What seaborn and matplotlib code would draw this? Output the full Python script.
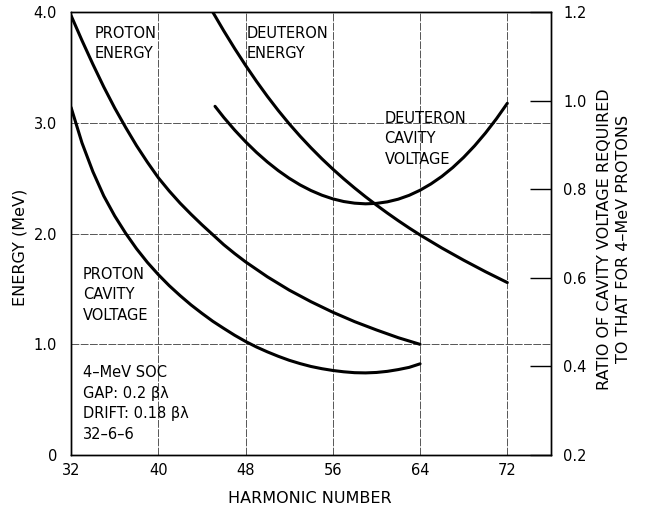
import numpy as np
import pandas as pd
import matplotlib
matplotlib.use("Agg")
import matplotlib.pyplot as plt
import seaborn as sns

# ---- data ----
# Proton energy (MeV, left axis)
pe_x = [32, 33, 34, 35, 36, 37, 38, 39, 40, 41, 42, 43, 44, 45, 46, 47, 48,
        50, 52, 54, 56, 58, 60, 62, 64]
pe_y = [3.97, 3.745, 3.53, 3.325, 3.135, 2.96, 2.795, 2.645, 2.505, 2.385, 2.275,
        2.175, 2.08, 1.99, 1.90, 1.82, 1.745, 1.61, 1.49, 1.385, 1.29, 1.205, 1.13,
        1.06, 1.0]

# Deuteron energy (MeV, left axis)
de_x = [45, 46, 47, 48, 49, 50, 51, 52, 53, 54, 55, 56, 57, 58, 59, 60, 61, 62, 63, 64,
        66, 68, 70, 72]
de_y = [4.0, 3.832, 3.672, 3.52, 3.376, 3.24, 3.112, 2.992, 2.88, 2.775, 2.676, 2.583,
        2.495, 2.412, 2.333, 2.258, 2.186, 2.117, 2.051, 1.988, 1.87, 1.76, 1.656, 1.558]

# Proton cavity voltage ratio (right axis)
pv_x = [32, 33, 34, 35, 36, 37, 38, 39, 40, 41, 42, 43, 44, 45, 46, 47, 48, 49,
        50, 51, 52, 53, 54, 55, 56, 57, 58, 59, 60, 61, 62, 63, 64]
pv_y = [0.985, 0.905, 0.84, 0.785, 0.74, 0.701, 0.666, 0.635, 0.6075, 0.5825, 0.56,
        0.539, 0.52, 0.502, 0.486, 0.4705, 0.4565, 0.444, 0.433, 0.423, 0.414, 0.4065,
        0.40, 0.395, 0.391, 0.388, 0.386, 0.3855, 0.3865, 0.389, 0.393, 0.398, 0.406]

# Deuteron cavity voltage ratio (right axis)
dv_x = [45.2, 46, 47, 48, 49, 50, 51, 52, 53, 54, 55, 56, 57, 58, 59, 60, 61, 62, 63,
        64, 65, 66, 67, 68, 69, 70, 71, 72]
dv_y = [0.9875, 0.9625, 0.9338, 0.9075, 0.8835, 0.8618, 0.8423, 0.825, 0.81, 0.7973,
        0.7868, 0.7785, 0.7725, 0.7688, 0.7673, 0.7683, 0.7718, 0.7778, 0.7865, 0.798,
        0.8123, 0.8293, 0.8493, 0.8723, 0.8983, 0.9273, 0.9593, 0.9943]

x_ticks = [32, 40, 48, 56, 64, 72]
left_ticks = [0, 1.0, 2.0, 3.0, 4.0]
left_labels = ["0", "1.0", "2.0", "3.0", "4.0"]
right_ticks = [0.2, 0.4, 0.6, 0.8, 1.0, 1.2]
right_labels = ["0.2", "0.4", "0.6", "0.8", "1.0", "1.2"]

sns.set_style("white")
plt.rcParams['font.family'] = ['DejaVu Sans']
plt.rcParams['text.color'] = 'black'
plt.rcParams['axes.labelcolor'] = 'black'
plt.rcParams['xtick.color'] = 'black'
plt.rcParams['ytick.color'] = 'black'

fig = plt.figure(figsize=(6.52, 5.09), dpi=100)
ax = fig.add_axes([0.109, 0.106, 0.736, 0.870])
ax2 = ax.twinx()

lw = 2.2
for xs, ys, a in ((pe_x, pe_y, ax), (de_x, de_y, ax), (pv_x, pv_y, ax2), (dv_x, dv_y, ax2)):
    sns.lineplot(data=pd.DataFrame({"x": xs, "y": ys}), x="x", y="y", ax=a,
                 color="black", lw=lw, sort=False, estimator=None)
    a.lines[-1].set_solid_joinstyle('round')

ax.set_xlim(32, 76)
ax.set_ylim(0, 4.0)
ax2.set_ylim(0.2, 1.2)

ax.set_xticks(x_ticks)
ax.set_xticklabels([str(t) for t in x_ticks], fontsize=10.5)
ax.set_yticks(left_ticks)
ax.set_yticklabels(left_labels, fontsize=10.5)
ax.tick_params(axis='both', length=0, labelcolor='black')
ax.tick_params(axis='y', pad=10)
ax.tick_params(axis='x', pad=6)

ax2.set_yticks(right_ticks)
ax2.set_yticklabels(right_labels, fontsize=10.5)
ax2.tick_params(axis='y', direction='in', length=15, width=1, pad=9, color='black',
                labelcolor='black')

ax.grid(True, color='#555555', lw=0.7, linestyle=(0, (8, 1.5)))
ax2.grid(False)

for a in (ax, ax2):
    for s in a.spines.values():
        s.set_color('black')
        s.set_linewidth(1.0)
        s.set_visible(True)

ax.set_xlabel("HARMONIC NUMBER", fontsize=11.5, va='center', color='black')
ax.xaxis.set_label_coords(0.498, -0.099)
ax.set_ylabel("ENERGY (MeV)", fontsize=11.5, va='center', ha='center', color='black')
ax.yaxis.set_label_coords(-0.106, 0.47)
ax2.set_ylabel("RATIO OF CAVITY VOLTAGE REQUIRED\nTO THAT FOR 4\u2013MeV PROTONS",
               fontsize=11.5, rotation=90, linespacing=1.35, va='center', ha='center',
               color='black')
ax2.yaxis.set_label_coords(1.131, 0.488)

tk = dict(fontsize=10.5, va='top', ha='left', linespacing=1.45, color='black')
ax.text(34.2, 3.88, "PROTON\nENERGY", **tk)
ax.text(48.1, 3.88, "DEUTERON\nENERGY", **tk)
ax.text(60.75, 3.11, "DEUTERON\nCAVITY\nVOLTAGE", **tk)
ax.text(33.1, 1.70, "PROTON\nCAVITY\nVOLTAGE", **tk)
ax.text(33.1, 0.81, "4\u2013MeV SOC\nGAP: 0.2 \u03b2\u03bb\nDRIFT: 0.18 \u03b2\u03bb\n32\u20136\u20136", **tk)

fig.savefig("out.png", dpi=100)
